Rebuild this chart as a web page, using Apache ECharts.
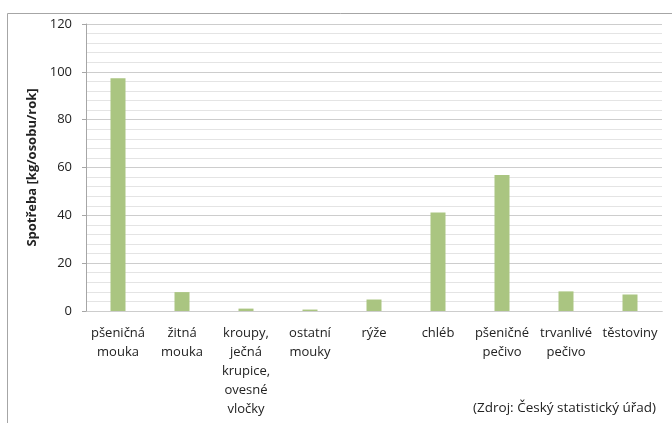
<!DOCTYPE html>
<html><head><meta charset="utf-8">
<script src="https://cdn.jsdelivr.net/npm/echarts@6/dist/echarts.min.js"></script>
<style>html,body{margin:0;padding:0;background:#fff}#c{width:672px;height:423px}</style>
</head><body><div id="c"></div>
<script>
const categories = ['pšeničná\nmouka','žitná\nmouka','kroupy,\nječná\nkrupice,\novesné\nvločky','ostatní\nmouky','rýže','chléb','pšeničné\npečivo','trvanlivé\npečivo','těstoviny'];
const values = [97.3, 7.9, 1.0, 0.6, 4.8, 41.2, 56.9, 8.2, 6.9];
const yTicks = [0, 20, 40, 60, 80, 100, 120];
const yTitle = 'Spotřeba [kg/osobu/rok]';
const source = '(Zdroj: Český statistický úřad)';

const font = '"Open Sans", "Noto Sans", sans-serif';
const chart = echarts.init(document.getElementById('c'));
chart.setOption({
  animation: false,
  textStyle: {fontFamily: font},
  grid: {left: 86, right: 10, top: 24, bottom: 112},
  graphic: [
    {type: 'rect', shape: {x: 7.5, y: 13.5, width: 700, height: 500}, style: {fill: 'none', stroke: '#a6a6a6', lineWidth: 1}, silent: true},
    {type: 'text', right: 16, top: 401, style: {text: source, font: '13.5px ' + font, fill: '#222'}}
  ],
  xAxis: {
    type: 'category', data: categories,
    axisLine: {lineStyle: {color: '#a6a6a6'}},
    axisTick: {show: false},
    axisLabel: {interval: 0, color: '#222', fontSize: 13, lineHeight: 19, margin: 13}
  },
  yAxis: [{
    type: 'value', min: 0, max: 120, interval: 20, z: 3,
    name: yTitle, nameLocation: 'middle', nameGap: 43,
    nameTextStyle: {fontWeight: 'bold', fontSize: 13, color: '#222'},
    axisLine: {show: true, lineStyle: {color: '#a6a6a6'}},
    axisTick: {show: true, length: 4, lineStyle: {color: '#a6a6a6'}},
    axisLabel: {color: '#222', fontSize: 13, margin: 14,
      formatter: v => yTicks.includes(v) ? String(v) : ''},
    splitLine: {lineStyle: {color: '#cdcdcd'}}
  }, {
    type: 'value', min: 0, max: 120, interval: 4, z: 1, position: 'left',
    axisLine: {show: false}, axisTick: {show: false}, axisLabel: {show: false},
    splitLine: {lineStyle: {color: '#e4e4e4'}}
  }],
  series: [{
    type: 'bar', data: values, barWidth: 15, yAxisIndex: 0, z: 5,
    itemStyle: {color: '#aac581'}
  }]
});
</script></body></html>
